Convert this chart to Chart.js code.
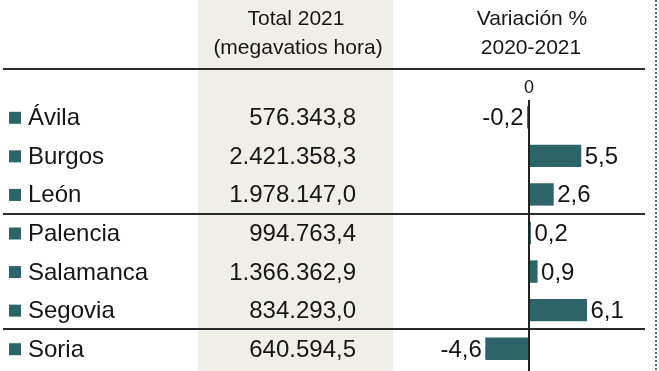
<!DOCTYPE html>
<html lang="es">
<head>
<meta charset="utf-8">
<title>Producción eléctrica 2021</title>
<script src="https://cdn.jsdelivr.net/npm/chart.js@4.4.0/dist/chart.umd.min.js"></script>
<style>
  html, body { margin: 0; padding: 0; background: #fff; }
  .chart-wrap { position: relative; width: 659px; height: 371px; }
</style>
</head>
<body>
<div class="chart-wrap"><canvas id="energyChart"></canvas></div>
<script>
// Chart data
const provinces = ['Ávila', 'Burgos', 'León', 'Palencia', 'Salamanca', 'Segovia', 'Soria'];
const totals2021 = [576343.8, 2421358.3, 1978147.0, 994763.4, 1366362.9, 834293.0, 640594.5];
const variation = [-0.2, 5.5, 2.6, 0.2, 0.9, 6.1, -4.6];
const headerTotal = ['Total 2021', '(megavatios hora)'];
const headerVariation = ['Variación %', '2020-2021'];
const zeroTickLabel = '0';
const groupBreaks = [2, 5]; // separator line after León and after Segovia

const TEAL = '#2d6467';
const INK = '#161616';
const FONT = '"Liberation Sans", Arial, Helvetica, sans-serif';

// Spanish number format: 1.234.567,8
function formatEs(value, decimals) {
    const fixed = Math.abs(value).toFixed(decimals);
    let [intPart, dec] = fixed.split('.');
    intPart = intPart.replace(/\B(?=(\d{3})+(?!\d))/g, '.');
    return (value < 0 ? '-' : '') + intPart + (dec ? ',' + dec : '');
}

// Draws the table part (beige column, headers, names, totals, rules)
const tablePlugin = {
    id: 'tablePlugin',
    beforeDatasetsDraw(chart) {
        const ctx = chart.ctx;
        const yScale = chart.scales.y;
        const H = chart.height;

        ctx.save();
        // beige column behind totals
        ctx.fillStyle = '#f0efe7';
        ctx.fillRect(198, 0, 195, H);

        // headers
        ctx.fillStyle = INK;
        ctx.font = '21px ' + FONT;
        ctx.textAlign = 'center';
        ctx.textBaseline = 'alphabetic';
        ctx.fillText(headerTotal[0], 296, 25);
        ctx.fillText(headerTotal[1], 298, 54);
        ctx.fillText(headerVariation[0], 532, 25);
        ctx.fillText(headerVariation[1], 531, 54);

        // rules
        ctx.strokeStyle = '#2a2a2a';
        ctx.lineWidth = 2;
        ctx.beginPath();
        ctx.moveTo(3, 69);
        ctx.lineTo(645, 69);
        groupBreaks.forEach(i => {
            const y = Math.round((yScale.getPixelForValue(i) + yScale.getPixelForValue(i + 1)) / 2);
            ctx.moveTo(3, y);
            ctx.lineTo(645, y);
        });
        ctx.stroke();

        // rows
        ctx.font = '24px ' + FONT;
        provinces.forEach((name, i) => {
            const cy = yScale.getPixelForValue(i);
            ctx.fillStyle = TEAL;
            ctx.fillRect(9, cy - 5.5, 12, 12);
            ctx.fillStyle = INK;
            ctx.textAlign = 'left';
            ctx.fillText(name, 28, cy + 8);
            ctx.textAlign = 'right';
            ctx.fillText(formatEs(totals2021[i], 1), 356, cy + 8);
        });

        // dotted frame edge on the right
        ctx.strokeStyle = '#3f7189';
        ctx.lineWidth = 2;
        ctx.setLineDash([2, 2]);
        ctx.beginPath();
        ctx.moveTo(656, 0);
        ctx.lineTo(656, H);
        ctx.stroke();
        ctx.restore();
    },
    afterDatasetsDraw(chart) {
        const ctx = chart.ctx;
        const xScale = chart.scales.x;
        const yScale = chart.scales.y;
        const x0 = Math.round(xScale.getPixelForValue(0));

        ctx.save();
        // zero axis
        ctx.strokeStyle = '#222';
        ctx.lineWidth = 2;
        ctx.beginPath();
        ctx.moveTo(x0, chart.chartArea.top + 2);
        ctx.lineTo(x0, chart.height);
        ctx.stroke();

        ctx.fillStyle = INK;
        ctx.font = '18px ' + FONT;
        ctx.textAlign = 'center';
        ctx.fillText(zeroTickLabel, x0, 93);

        // value labels
        ctx.font = '24px ' + FONT;
        const meta = chart.getDatasetMeta(0);
        meta.data.forEach((bar, i) => {
            const v = variation[i];
            const cy = yScale.getPixelForValue(i);
            if (v >= 0) {
                ctx.textAlign = 'left';
                ctx.fillText(formatEs(v, 1), Math.max(bar.x, x0) + 3.5, cy + 8);
            } else {
                ctx.textAlign = 'right';
                ctx.fillText(formatEs(v, 1), Math.min(bar.x, x0 - 1) - 3.5, cy + 8);
            }
        });
        ctx.restore();
    }
};

const ctx = document.getElementById('energyChart').getContext('2d');
new Chart(ctx, {
    type: 'bar',
    data: {
        labels: provinces,
        datasets: [{
            data: variation,
            backgroundColor: TEAL,
            borderWidth: 0,
            categoryPercentage: 1,
            barPercentage: 0.58
        }]
    },
    options: {
        indexAxis: 'y',
        responsive: true,
        maintainAspectRatio: false,
        animation: false,
        layout: {
            padding: { left: 453, right: 54, top: 98, bottom: 3 }
        },
        scales: {
            x: { type: 'linear', min: -8, max: 8, display: false },
            y: { display: false }
        },
        plugins: {
            legend: { display: false },
            tooltip: { enabled: false }
        }
    },
    plugins: [tablePlugin]
});
</script>
</body>
</html>
